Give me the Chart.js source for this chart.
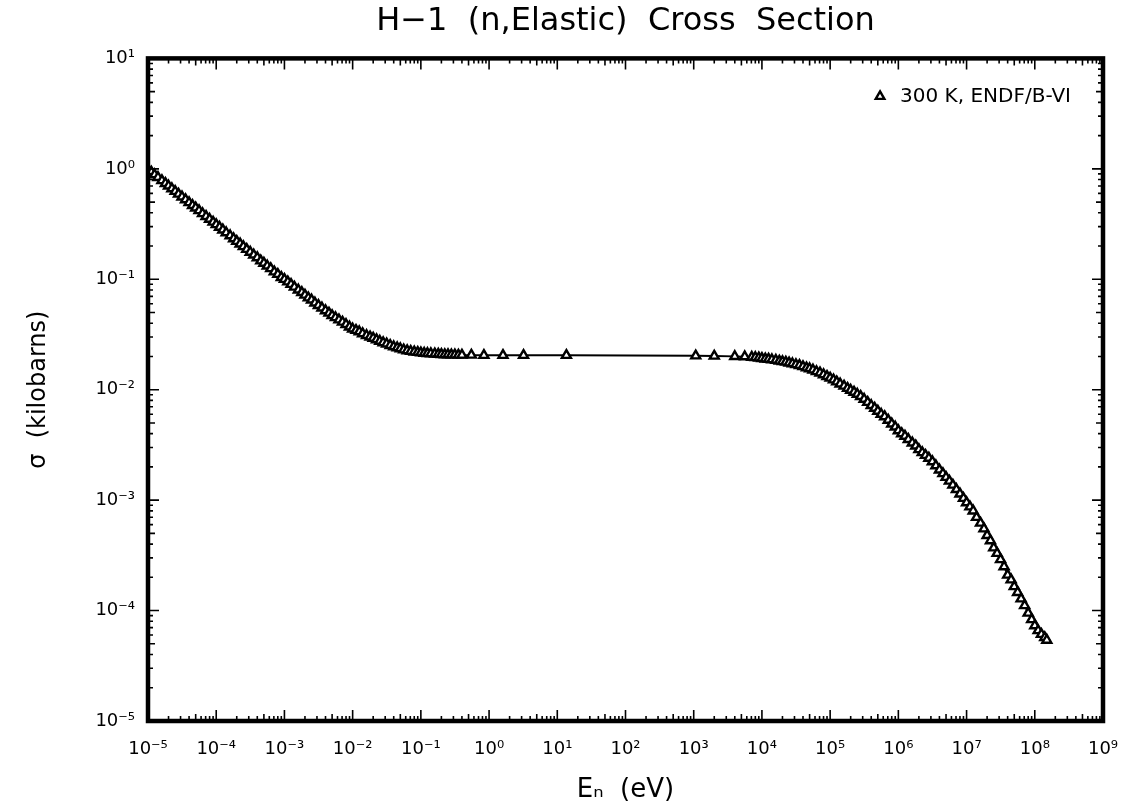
<!DOCTYPE html>
<html>
<head>
<meta charset="utf-8">
<script src="https://cdn.jsdelivr.net/npm/chart.js@4"></script>
<style>
  body { margin: 0; background: #fff; }
</style>
</head>
<body>
<canvas id="myChart" width="1121" height="808"></canvas>
<script>
/* H-1 elastic, 300 K (eV, kilobarns) */
const energies = [
  1e-5, 1.12e-5, 1.25e-5, 1.4e-5, 1.6e-5, 1.8e-5, 2e-5, 2.24e-5, 2.5e-5, 2.8e-5,
  3.15e-5, 3.55e-5, 4e-5, 4.5e-5, 5e-5, 5.6e-5, 6.3e-5, 7.1e-5, 8e-5, 9e-5,
  1e-4, 1.12e-4, 1.25e-4, 1.4e-4, 1.6e-4, 1.8e-4, 2e-4, 2.24e-4, 2.5e-4, 2.8e-4,
  3.15e-4, 3.55e-4, 4e-4, 4.5e-4, 5e-4, 5.6e-4, 6.3e-4, 7.1e-4, 8e-4, 9e-4,
  1e-3, 1.12e-3, 1.25e-3, 1.4e-3, 1.6e-3, 1.8e-3, 2e-3, 2.24e-3, 2.5e-3, 2.8e-3,
  3.15e-3, 3.55e-3, 4e-3, 4.5e-3, 5e-3, 5.6e-3, 6.3e-3, 7.1e-3, 8e-3, 9e-3,
  1e-2, 1.12e-2, 1.25e-2, 1.4e-2, 1.6e-2, 1.8e-2, 2e-2, 2.24e-2, 2.5e-2, 2.8e-2,
  3.15e-2, 3.55e-2, 4e-2, 4.5e-2, 5e-2, 5.6e-2, 6.3e-2, 7.1e-2, 8e-2, 9e-2,
  0.1, 0.112, 0.125, 0.14, 0.16, 0.18, 0.2, 0.224, 0.25, 0.28, 0.315, 0.355, 0.4,
  0.55, 0.84, 1.6, 3.2, 13.6, 1070, 2000, 4000, 5600,
  7.1e3, 8e3, 9e3,
  1e4, 1.12e4, 1.25e4, 1.4e4, 1.6e4, 1.8e4, 2e4, 2.24e4, 2.5e4, 2.8e4,
  3.15e4, 3.55e4, 4e4, 4.5e4, 5e4, 5.6e4, 6.3e4, 7.1e4, 8e4, 9e4,
  1e5, 1.12e5, 1.25e5, 1.4e5, 1.6e5, 1.8e5, 2e5, 2.24e5, 2.5e5, 2.8e5,
  3.15e5, 3.55e5, 4e5, 4.5e5, 5e5, 5.6e5, 6.3e5, 7.1e5, 8e5, 9e5,
  1e6, 1.12e6, 1.25e6, 1.4e6, 1.6e6, 1.8e6, 2e6, 2.24e6, 2.5e6, 2.8e6,
  3.15e6, 3.55e6, 4e6, 4.5e6, 5e6, 5.6e6, 6.3e6, 7.1e6, 8e6, 9e6,
  1e7, 1.12e7, 1.25e7, 1.4e7, 1.6e7, 1.8e7, 2e7, 2.24e7, 2.5e7, 2.8e7,
  3.15e7, 3.55e7, 4e7, 4.5e7, 5e7, 5.6e7, 6.3e7, 7.1e7, 8e7, 9e7,
  1e8, 1.12e8, 1.25e8, 1.4e8, 1.5e8
];
const sigma = [
  0.99, 0.936, 0.885, 0.837, 0.783, 0.738, 0.700, 0.661, 0.626, 0.592,
  0.557, 0.526, 0.495, 0.466, 0.443, 0.419, 0.394, 0.371, 0.350, 0.330,
  0.313, 0.296, 0.280, 0.264, 0.248, 0.233, 0.221, 0.209, 0.198, 0.187,
  0.176, 0.166, 0.157, 0.147, 0.140, 0.132, 0.125, 0.117, 0.111, 0.104,
  0.100, 0.095, 0.090, 0.085, 0.080, 0.076, 0.072, 0.068, 0.065, 0.061,
  0.058, 0.055, 0.052, 0.0495, 0.047, 0.045, 0.043, 0.041, 0.039, 0.037,
  0.0355, 0.0345, 0.0335, 0.0322, 0.031, 0.0301, 0.0293, 0.0284, 0.0275, 0.0267,
  0.026, 0.0252, 0.0245, 0.024, 0.0235, 0.023, 0.0226, 0.0223, 0.022, 0.0218,
  0.0216, 0.0214, 0.0213, 0.0212, 0.0211, 0.021, 0.0209, 0.0208, 0.0208, 0.0207, 0.0207, 0.0206, 0.0206,
  0.0206, 0.0205, 0.0205, 0.0205, 0.0205, 0.0203, 0.0202, 0.0200, 0.0199,
  0.0197, 0.0196, 0.0194,
  0.0192, 0.0190, 0.0189, 0.0187, 0.0185, 0.0182, 0.0180, 0.0178, 0.0175, 0.0172,
  0.0169, 0.0166, 0.0162, 0.0158, 0.0155, 0.0151, 0.0146, 0.0142, 0.0137, 0.0132,
  0.01275, 0.0123, 0.0118, 0.0113, 0.0108, 0.0103, 0.0099, 0.0095, 0.0091, 0.0087,
  0.0082, 0.0077, 0.0072, 0.0068, 0.0064, 0.0060, 0.0057, 0.0053, 0.0049, 0.0046,
  0.00426, 0.0040, 0.0038, 0.00355, 0.0033, 0.0031, 0.00287, 0.0027, 0.00255, 0.0024,
  0.00223, 0.00205, 0.00188, 0.00174, 0.00161, 0.00149, 0.00137, 0.00125, 0.00114, 0.00104,
  0.00095, 0.00087, 0.00080, 0.00070, 0.00062, 0.00055, 0.00048, 0.00043, 0.00037, 0.00033,
  0.00029, 0.00025, 0.00021, 0.00019, 0.000165, 0.000146, 0.000128, 0.000111, 0.000095, 0.000083,
  0.000073, 0.000066, 0.000061, 0.000057, 0.000054
];
const xRange = [1e-5, 1e9];
const yRange = [1e-5, 10];
const seriesLabel = '300 K, ENDF/B-VI';

const SUP = { '-': '⁻', '0': '⁰', '1': '¹', '2': '²', '3': '³', '4': '⁴', '5': '⁵', '6': '⁶', '7': '⁷', '8': '⁸', '9': '⁹' };

function powerLabel(value) {
  const e = Math.log10(value);
  if (Math.abs(e - Math.round(e)) > 1e-6) return '';
  return '10' + String(Math.round(e)).split('').map(c => SUP[c]).join('');
}

// ticks hacia adentro en los cuatro lados + marco, y leyenda arriba a la derecha
const frameTicks = {
  id: 'frameTicks',
  afterLayout(chart) {
    const lg = chart.legend;
    const a = chart.chartArea;
    if (!lg) return;
    const w = lg.width;
    lg.left = a.right - w - 22;
    lg.right = a.right - 22;
    lg.top = a.top;
    lg.bottom = a.bottom;
  },
  afterDatasetsDraw(chart) {
    const { ctx, chartArea: a, scales: { x, y } } = chart;
    ctx.save();
    ctx.strokeStyle = '#000';
    ctx.lineWidth = 1.6;
    ctx.beginPath();
    for (let e = Math.log10(xRange[0]); e < Math.log10(xRange[1]); e++) {
      for (let m = 1; m < 10; m++) {
        const px = x.getPixelForValue(m * Math.pow(10, e));
        const len = m === 1 ? 11 : (m === 5 ? 7 : 5);
        ctx.moveTo(px, a.top); ctx.lineTo(px, a.top + len);
        ctx.moveTo(px, a.bottom); ctx.lineTo(px, a.bottom - len);
      }
    }
    for (let e = Math.log10(yRange[0]); e < Math.log10(yRange[1]); e++) {
      for (let m = 1; m < 10; m++) {
        const py = y.getPixelForValue(m * Math.pow(10, e));
        const len = m === 1 ? 11 : (m === 5 ? 7 : 5);
        ctx.moveTo(a.left, py); ctx.lineTo(a.left + len, py);
        ctx.moveTo(a.right, py); ctx.lineTo(a.right - len, py);
      }
    }
    ctx.stroke();
    ctx.lineWidth = 4.5;
    ctx.strokeRect(a.left, a.top, a.right - a.left, a.bottom - a.top);
    ctx.restore();
  }
};

Chart.defaults.font.family = "'DejaVu Sans', sans-serif";
Chart.defaults.color = '#000';

new Chart(document.getElementById('myChart').getContext('2d'), {
  type: 'scatter',
  data: {
    datasets: [{
      label: seriesLabel,
      data: energies.map((e, i) => ({ x: e, y: sigma[i] })),
      showLine: true,
      borderColor: '#000',
      backgroundColor: '#fff',
      borderWidth: 1.8,
      pointStyle: 'triangle',
      pointRadius: 5.2,
      pointBorderWidth: 2.4,
      pointBackgroundColor: '#fff',
      pointBorderColor: '#000'
    }]
  },
  options: {
    responsive: false,
    animation: false,
    layout: { padding: { left: 0, right: 0, top: 0, bottom: 0 } },
    plugins: {
      tooltip: { enabled: false },
      title: {
        display: true,
        fullSize: false,
        text: 'H−1  (n,Elastic)  Cross  Section',
        font: { size: 32, weight: 'normal' },
        padding: { top: 2, bottom: 18 }
      },
      legend: {
        position: 'chartArea',
        align: 'start',
        labels: {
          usePointStyle: true,
          boxWidth: 20,
          boxHeight: 7,
          padding: 28,
          font: { size: 20 }
        }
      }
    },
    scales: {
      x: {
        type: 'logarithmic',
        min: xRange[0],
        max: xRange[1],
        grid: { display: false },
        border: { display: false },
        ticks: {
          autoSkip: false,
          maxRotation: 0,
          padding: 10,
          font: { size: 18 },
          callback: v => powerLabel(v)
        },
        title: {
          display: true,
          text: 'Eₙ  (eV)',
          font: { size: 26 },
          padding: { top: 6, bottom: 2 }
        },
        afterFit: s => { s.height = 87; s.paddingRight = 18; s.paddingLeft = 0; }
      },
      y: {
        type: 'logarithmic',
        min: yRange[0],
        max: yRange[1],
        grid: { display: false },
        border: { display: false },
        ticks: {
          autoSkip: false,
          padding: 5,
          font: { size: 18 },
          callback: v => powerLabel(v)
        },
        title: {
          display: true,
          text: 'σ  (kilobarns)',
          font: { size: 24 },
          padding: { top: 24, bottom: 0 }
        },
        afterFit: s => { s.width = 148; }
      }
    }
  },
  plugins: [frameTicks]
});
</script>
</body>
</html>
